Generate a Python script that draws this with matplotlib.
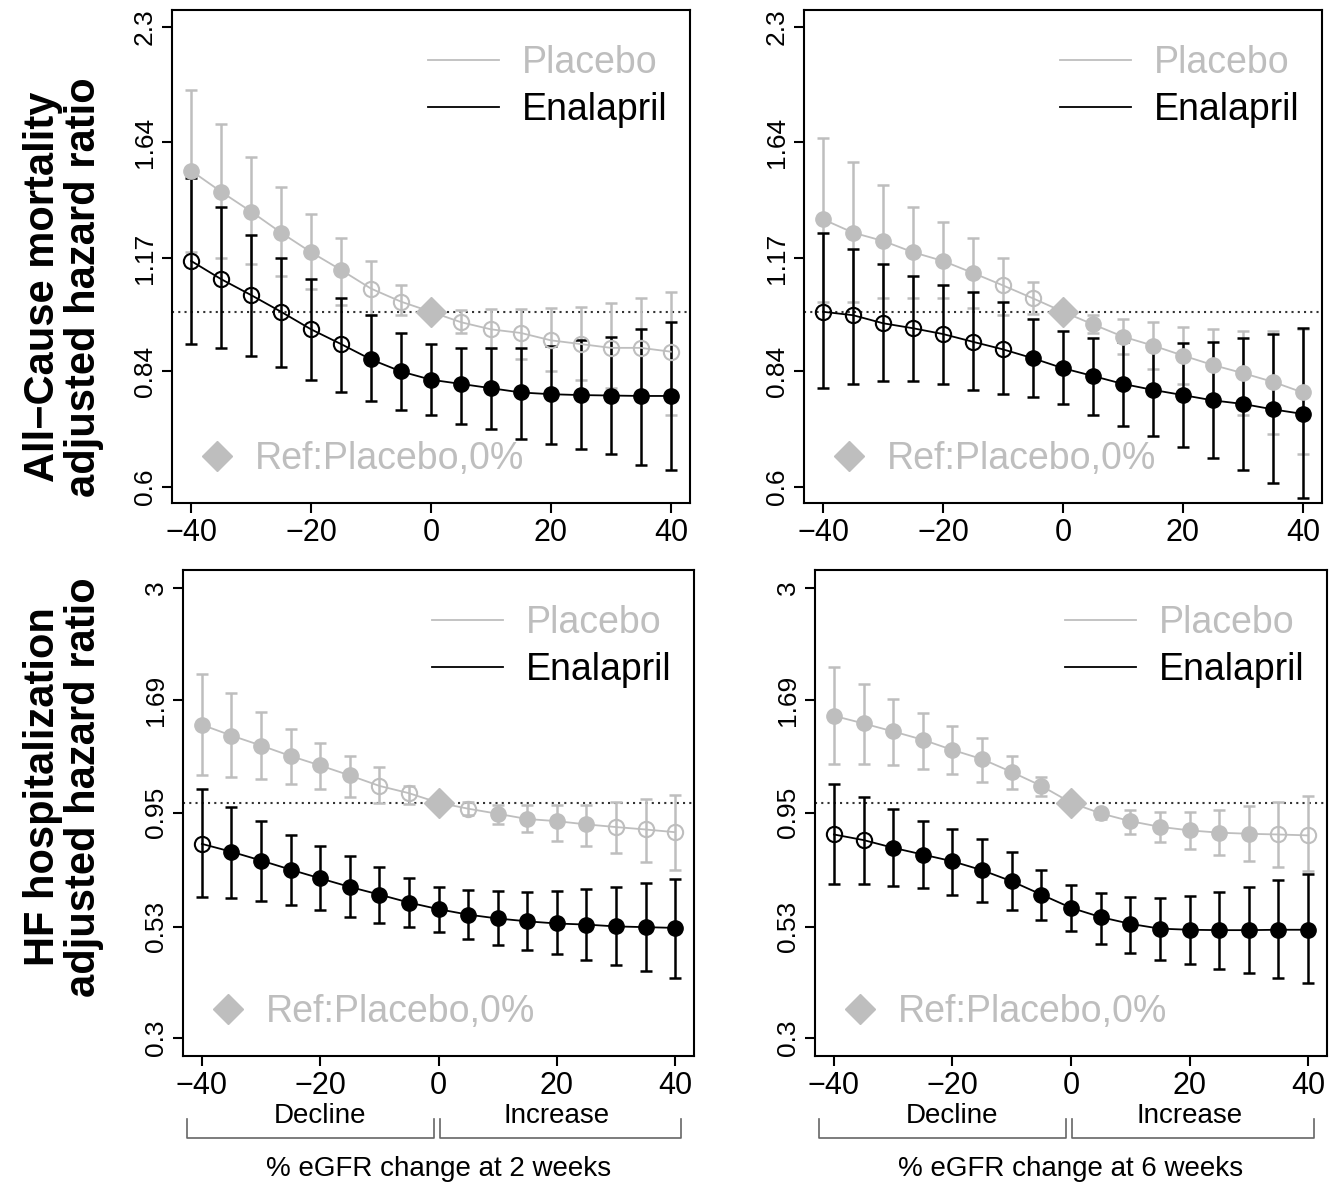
import numpy as np
import matplotlib
matplotlib.use("Agg")
import matplotlib.pyplot as plt
import matplotlib.transforms as mtransforms
from matplotlib.lines import Line2D

plt.rcParams['font.family'] = ['Liberation Sans', 'DejaVu Sans']

# ----------------------------------------------------------------------
# Data (hazard ratios)
# ----------------------------------------------------------------------
egfr_change = [-40, -35, -30, -25, -20, -15, -10, -5, 0, 5, 10, 15, 20, 25, 30, 35, 40]
nan = np.nan

# Top-left: all-cause mortality, eGFR change at 2 weeks
tl_pla_hr = [1.51, 1.42, 1.34, 1.26, 1.19, 1.13, 1.07, 1.03, 1.00, 0.97, 0.95, 0.94, 0.92, 0.91, 0.90, 0.90, 0.89]
tl_pla_hi = [1.91, 1.73, 1.57, 1.44, 1.33, 1.24, 1.16, 1.08, nan, 1.005, 1.007, 1.007, 1.012, 1.015, 1.027, 1.04, 1.06]
tl_pla_lo = [1.19, 1.17, 1.15, 1.11, 1.07, 1.02, 0.99, 0.99, nan, 0.94, 0.90, 0.87, 0.84, 0.82, 0.80, 0.77, 0.74]
tl_pla_sig = [1, 1, 1, 1, 1, 1, 0, 0, 0, 0, 0, 0, 0, 0, 0, 0, 0]
tl_ena_hr = [1.16, 1.10, 1.05, 1.00, 0.95, 0.91, 0.87, 0.84, 0.82, 0.81, 0.80, 0.79, 0.786, 0.784, 0.783, 0.782, 0.782]
tl_ena_hi = [1.48, 1.36, 1.25, 1.17, 1.10, 1.04, 0.99, 0.94, 0.91, 0.90, 0.90, 0.90, 0.906, 0.92, 0.93, 0.95, 0.97]
tl_ena_lo = [0.91, 0.90, 0.88, 0.85, 0.82, 0.79, 0.77, 0.75, 0.74, 0.72, 0.71, 0.69, 0.68, 0.67, 0.66, 0.64, 0.63]
tl_ena_sig = [0, 0, 0, 0, 0, 0, 1, 1, 1, 1, 1, 1, 1, 1, 1, 1, 1]

# Top-right: all-cause mortality, eGFR change at 6 weeks
tr_pla_hr = [1.31, 1.26, 1.23, 1.19, 1.16, 1.12, 1.08, 1.04, 1.00, 0.964, 0.93, 0.906, 0.88, 0.856, 0.836, 0.815, 0.79]
tr_pla_hi = [1.66, 1.55, 1.45, 1.36, 1.30, 1.24, 1.17, 1.09, nan, 0.99, 0.98, 0.97, 0.957, 0.95, 0.946, 0.946, 0.95]
tr_pla_lo = [1.03, 1.03, 1.04, 1.04, 1.04, 1.01, 0.99, 0.995, nan, 0.94, 0.885, 0.845, 0.81, 0.77, 0.74, 0.70, 0.66]
tr_pla_sig = [1, 1, 1, 1, 1, 1, 0, 0, 0, 1, 1, 1, 1, 1, 1, 1, 1]
tr_ena_hr = [1.00, 0.99, 0.967, 0.953, 0.937, 0.916, 0.896, 0.873, 0.848, 0.829, 0.810, 0.796, 0.784, 0.772, 0.764, 0.752, 0.742]
tr_ena_hi = [1.26, 1.20, 1.15, 1.11, 1.08, 1.06, 1.03, 0.98, 0.945, 0.927, 0.916, 0.912, 0.912, 0.915, 0.927, 0.936, 0.953]
tr_ena_lo = [0.80, 0.81, 0.817, 0.817, 0.81, 0.796, 0.786, 0.779, 0.764, 0.74, 0.717, 0.696, 0.674, 0.653, 0.63, 0.606, 0.58]
tr_ena_sig = [0, 0, 0, 0, 0, 0, 0, 1, 1, 1, 1, 1, 1, 1, 1, 1, 1]

# Bottom-left: HF hospitalization, eGFR change at 2 weeks
bl_pla_hr = [1.49, 1.41, 1.34, 1.27, 1.21, 1.15, 1.09, 1.05, 1.00, 0.97, 0.945, 0.92, 0.91, 0.895, 0.883, 0.872, 0.86]
bl_pla_hi = [1.93, 1.75, 1.59, 1.46, 1.36, 1.27, 1.20, 1.09, nan, 1.005, 0.99, 0.99, 0.99, 0.99, 1.005, 1.02, 1.04]
bl_pla_lo = [1.15, 1.14, 1.13, 1.10, 1.07, 1.03, 0.997, 0.995, nan, 0.94, 0.895, 0.86, 0.824, 0.80, 0.774, 0.74, 0.71]
bl_pla_sig = [1, 1, 1, 1, 1, 1, 0, 0, 0, 0, 1, 1, 1, 1, 0, 0, 0]
bl_ena_hr = [0.81, 0.778, 0.744, 0.71, 0.679, 0.65, 0.625, 0.60, 0.58, 0.564, 0.553, 0.545, 0.539, 0.536, 0.531, 0.529, 0.527]
bl_ena_hi = [1.07, 0.98, 0.91, 0.847, 0.80, 0.76, 0.72, 0.68, 0.65, 0.64, 0.637, 0.634, 0.637, 0.644, 0.65, 0.664, 0.678]
bl_ena_lo = [0.618, 0.615, 0.606, 0.594, 0.577, 0.556, 0.539, 0.53, 0.516, 0.499, 0.482, 0.47, 0.46, 0.448, 0.435, 0.422, 0.408]
bl_ena_sig = [0, 1, 1, 1, 1, 1, 1, 1, 1, 1, 1, 1, 1, 1, 1, 1, 1]

# Bottom-right: HF hospitalization, eGFR change at 6 weeks
br_pla_hr = [1.56, 1.50, 1.44, 1.38, 1.31, 1.25, 1.17, 1.09, 1.00, 0.947, 0.91, 0.884, 0.868, 0.858, 0.853, 0.85, 0.846]
br_pla_hi = [2.00, 1.84, 1.70, 1.58, 1.48, 1.39, 1.27, 1.14, nan, 0.97, 0.963, 0.953, 0.953, 0.963, 0.983, 1.005, 1.035]
br_pla_lo = [1.22, 1.22, 1.21, 1.19, 1.16, 1.11, 1.07, 1.035, nan, 0.918, 0.85, 0.817, 0.79, 0.765, 0.744, 0.719, 0.705]
br_pla_sig = [1, 1, 1, 1, 1, 1, 1, 1, 0, 1, 1, 1, 1, 1, 1, 0, 0]
br_ena_hr = [0.85, 0.826, 0.794, 0.767, 0.741, 0.708, 0.669, 0.625, 0.584, 0.557, 0.538, 0.525, 0.522, 0.521, 0.521, 0.522, 0.522]
br_ena_hi = [1.10, 1.03, 0.967, 0.91, 0.872, 0.829, 0.778, 0.71, 0.658, 0.63, 0.618, 0.615, 0.622, 0.634, 0.649, 0.673, 0.693]
br_ena_lo = [0.66, 0.66, 0.652, 0.645, 0.625, 0.602, 0.577, 0.55, 0.518, 0.486, 0.464, 0.448, 0.438, 0.427, 0.4185, 0.408, 0.398]
br_ena_sig = [0, 0, 1, 1, 1, 1, 1, 1, 1, 1, 1, 1, 1, 1, 1, 1, 1]

top_yticks = [0.6, 0.84, 1.17, 1.64, 2.3]
top_yticklabels = ["0.6", "0.84", "1.17", "1.64", "2.3"]
bot_yticks = [0.3, 0.53, 0.95, 1.69, 3]
bot_yticklabels = ["0.3", "0.53", "0.95", "1.69", "3"]
xticks = [-40, -20, 0, 20, 40]

GRAY = "#BEBEBE"
BLACK = "#000000"


def draw_series(ax, x, hr, lo, hi, sig, color, ref_idx=None):
    x = np.asarray(x, float)
    hr = np.asarray(hr, float)
    lo = np.asarray(lo, float)
    hi = np.asarray(hi, float)
    sig = np.asarray(sig, bool)
    ok = ~np.isnan(lo)
    ax.errorbar(x[ok], hr[ok], yerr=[hr[ok] - lo[ok], hi[ok] - hr[ok]], fmt='none',
                ecolor=color, elinewidth=1.8, capsize=4, capthick=1.8, zorder=2)
    ax.plot(x, hr, color=color, lw=1.3, zorder=3)
    mask = np.ones(len(x), bool)
    if ref_idx is not None:
        mask[ref_idx] = False
    filled = sig & mask
    opened = ~sig & mask
    ax.plot(x[filled], hr[filled], 'o', ms=11, color=color, mec=color, ls='none', zorder=4)
    ax.plot(x[opened], hr[opened], 'o', ms=11, mfc='none', mec=color, mew=1.5, ls='none', zorder=4)
    if ref_idx is not None:
        ax.plot(x[ref_idx], hr[ref_idx], 'D', ms=15, color=GRAY, ls='none', zorder=5)


def panel(ax, pla, ena, yticks, yticklabels, ylim):
    ax.set_yscale('log')
    ax.axhline(1.0, color='#333333', ls=(0, (1, 2)), lw=1.5, zorder=1)
    draw_series(ax, egfr_change, *pla, GRAY, ref_idx=egfr_change.index(0))
    draw_series(ax, egfr_change, *ena, BLACK)
    ax.set_xlim(-43.2, 43.2)
    ax.set_ylim(*ylim)
    ax.set_yticks(yticks)
    ax.set_yticklabels(yticklabels, rotation=90, va='center', fontsize=19)
    ax.yaxis.set_minor_locator(matplotlib.ticker.NullLocator())
    ax.set_xticks(xticks)
    ax.set_xticklabels([str(v).replace('-', '\u2212') for v in xticks], fontsize=22)
    ax.tick_params(direction='out', length=7, width=1.5, pad=4)
    for s in ax.spines.values():
        s.set_linewidth(1.5)

    handles = [Line2D([], [], color=GRAY, lw=1.3), Line2D([], [], color=BLACK, lw=1.3)]
    leg = ax.legend(handles, ["Placebo", "Enalapril"], loc='upper right',
                    bbox_to_anchor=(1.0, 0.975), frameon=False,
                    fontsize=27, handlelength=1.9, handletextpad=0.6, labelspacing=0.3,
                    borderaxespad=0.2)
    leg.get_texts()[0].set_color(GRAY)
    ax.add_artist(leg)
    ref = ax.legend([Line2D([], [], marker='D', ms=15, color=GRAY, ls='none')],
                    ["Ref:Placebo,0%"], loc='lower left', frameon=False, fontsize=27,
                    handlelength=1.0, handletextpad=0.5, borderaxespad=0.3)
    ref.get_texts()[0].set_color(GRAY)


def bottom_annot(ax, label):
    trans = mtransforms.blended_transform_factory(ax.transData, ax.transAxes)
    ax.text(-20, -0.123, "Decline", transform=trans, ha='center', va='center', fontsize=20)
    ax.text(20, -0.123, "Increase", transform=trans, ha='center', va='center', fontsize=20)
    for x0, x1 in [(-42.5, -0.8), (0.2, 41)]:
        ax.plot([x0, x0, x1, x1], [-0.13, -0.169, -0.169, -0.13], color='#666666',
                lw=1.2, transform=trans, clip_on=False)
    ax.text(0.5, -0.232, label, transform=ax.transAxes, ha='center', va='center', fontsize=20)


fig = plt.figure(figsize=(13.38, 11.91), dpi=100)
W, H = 1338, 1191


def add_axes(l, r, t, b):
    return fig.add_axes([l / W, 1 - b / H, (r - l) / W, (b - t) / H])


ax_tl = add_axes(172, 690, 10, 503)
ax_tr = add_axes(804, 1322, 10, 503)
ax_bl = add_axes(183, 694, 570, 1056)
ax_br = add_axes(815, 1327, 570, 1056)

top_ylim = (0.572, 2.415)
bot_ylim = (0.2736, 3.29)

panel(ax_tl, (tl_pla_hr, tl_pla_lo, tl_pla_hi, tl_pla_sig),
      (tl_ena_hr, tl_ena_lo, tl_ena_hi, tl_ena_sig), top_yticks, top_yticklabels, top_ylim)
panel(ax_tr, (tr_pla_hr, tr_pla_lo, tr_pla_hi, tr_pla_sig),
      (tr_ena_hr, tr_ena_lo, tr_ena_hi, tr_ena_sig), top_yticks, top_yticklabels, top_ylim)
panel(ax_bl, (bl_pla_hr, bl_pla_lo, bl_pla_hi, bl_pla_sig),
      (bl_ena_hr, bl_ena_lo, bl_ena_hi, bl_ena_sig), bot_yticks, bot_yticklabels, bot_ylim)
panel(ax_br, (br_pla_hr, br_pla_lo, br_pla_hi, br_pla_sig),
      (br_ena_hr, br_ena_lo, br_ena_hi, br_ena_sig), bot_yticks, bot_yticklabels, bot_ylim)

bottom_annot(ax_bl, "% eGFR change at 2 weeks")
bottom_annot(ax_br, "% eGFR change at 6 weeks")

# two-line y labels, one text per line so the line gap can be set exactly
for yc, line1 in [(287, "All\u2212Cause mortality"), (787, "HF hospitalization")]:
    fig.text(43 / W, 1 - yc / H, line1, rotation=90, ha='center', va='center',
             fontsize=30, fontweight='bold')
    fig.text(84 / W, 1 - yc / H, "adjusted hazard ratio", rotation=90, ha='center',
             va='center', fontsize=30, fontweight='bold')

fig.savefig("out.png", dpi=100)
